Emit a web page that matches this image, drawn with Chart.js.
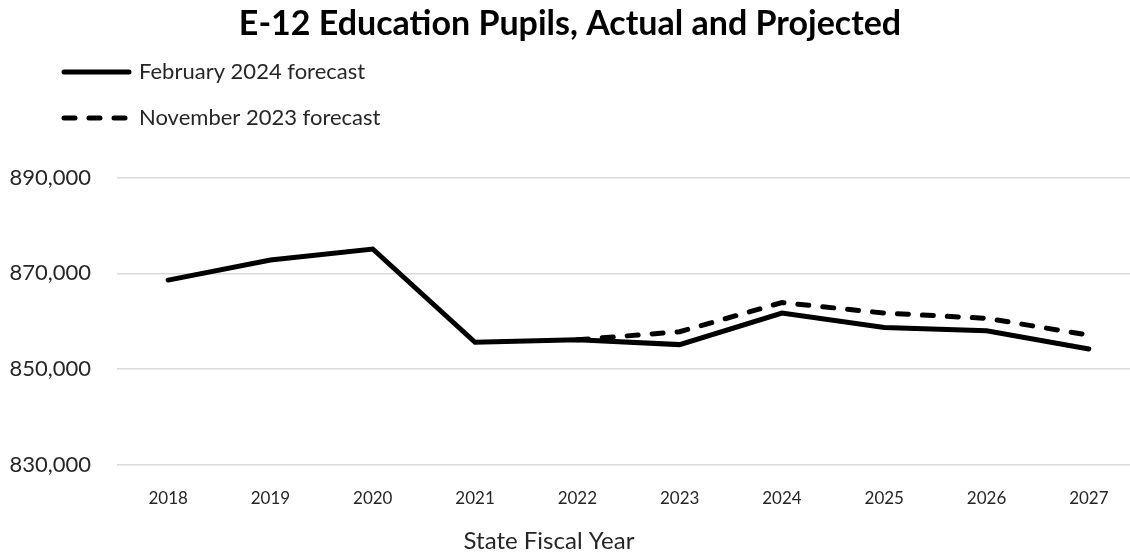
<!DOCTYPE html>
<html>
<head>
<meta charset="utf-8">
<script src="https://cdn.jsdelivr.net/npm/chart.js@4/dist/chart.umd.min.js"></script>
<style>
  html, body { margin: 0; padding: 0; background: #fff; overflow: hidden; }
  #wrap { position: relative; width: 1140px; height: 556px; }
</style>
</head>
<body>
<div id="wrap"><canvas id="pupilsChart"></canvas></div>
<script>
// Chart data
const years = ['2018', '2019', '2020', '2021', '2022', '2023', '2024', '2025', '2026', '2027'];
const feb2024 = [868600, 872800, 875100, 855600, 856100, 855100, 861700, 858700, 858000, 854200];
const nov2023 = [null, null, null, null, 856100, 857800, 863900, 861700, 860600, 857100];
const yTicks = [830000, 850000, 870000, 890000];
const xTitle = 'State Fiscal Year';

const FONT = 'Lato, "Open Sans", sans-serif';
const INK = '#000';
const TEXT = '#262626';

// legend in two stacked rows top-left, plus the x axis title (sits off-centre like the original)
const extras = {
    id: 'extras',
    afterDraw(chart) {
        const ctx = chart.ctx;
        const rows = [72, 118];
        ctx.save();
        chart.data.datasets.forEach((ds, i) => {
            const y = rows[i];
            ctx.beginPath();
            ctx.lineWidth = 5;
            ctx.lineCap = 'round';
            ctx.strokeStyle = ds.borderColor;
            ctx.setLineDash(ds.borderDash || []);
            ctx.moveTo(64, y);
            ctx.lineTo(129, y);
            ctx.stroke();
            ctx.setLineDash([]);
            ctx.fillStyle = TEXT;
            ctx.font = '22px ' + FONT;
            ctx.textBaseline = 'middle';
            ctx.textAlign = 'left';
            ctx.fillText(ds.label, 139, y);
        });
        ctx.font = '24px ' + FONT;
        ctx.fillStyle = TEXT;
        ctx.textAlign = 'center';
        ctx.textBaseline = 'middle';
        ctx.fillText(xTitle, 549, 541);
        ctx.restore();
    }
};

new Chart(document.getElementById('pupilsChart'), {
    type: 'line',
    data: {
        labels: years,
        datasets: [
            {
                label: 'February 2024 forecast',
                data: feb2024,
                borderColor: INK,
                borderWidth: 5,
                borderCapStyle: 'round',
                pointRadius: 0,
                tension: 0
            },
            {
                label: 'November 2023 forecast',
                data: nov2023,
                borderColor: INK,
                borderWidth: 5,
                borderDash: [11, 14],
                borderCapStyle: 'round',
                pointRadius: 0,
                tension: 0
            }
        ]
    },
    options: {
        responsive: true,
        maintainAspectRatio: false,
        animation: false,
        layout: { padding: { left: 0, right: 0, top: 0, bottom: 23 } },
        plugins: {
            legend: { display: false },
            tooltip: { enabled: false },
            title: {
                display: true,
                text: 'E-12 Education Pupils, Actual and Projected',
                color: '#000',
                font: { family: FONT, size: 34, weight: 'bold' },
                padding: { top: 4, bottom: 133 }
            }
        },
        scales: {
            x: {
                offset: true,
                grid: { display: false, drawTicks: false },
                border: { display: false },
                ticks: {
                    color: TEXT,
                    font: { family: FONT, size: 17 },
                    padding: 24,
                    maxRotation: 0,
                    autoSkip: false
                }
            },
            y: {
                min: 830000,
                max: 890000,
                afterFit: s => { s.width = 117; },
                afterBuildTicks: s => { s.ticks = yTicks.map(v => ({ value: v })); },
                grid: { color: '#d9d9d9', lineWidth: 1.5, drawTicks: false },
                border: { display: false },
                ticks: {
                    color: TEXT,
                    font: { family: FONT, size: 22 },
                    padding: 26,
                    callback: v => v.toLocaleString('en-US')
                }
            }
        }
    },
    plugins: [extras]
});
</script>
</body>
</html>
